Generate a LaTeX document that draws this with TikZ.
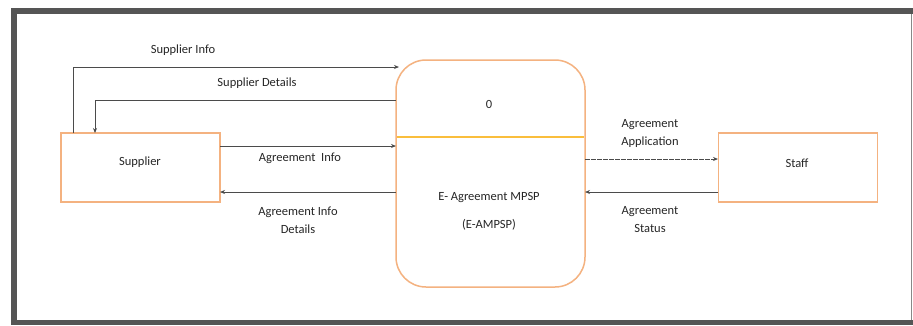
\documentclass[tikz,border=0pt]{standalone}
\usepackage{fontspec}
\setmainfont{Carlito}
\usetikzlibrary{arrows.meta}
\definecolor{boxor}{RGB}{244,178,128}
\definecolor{divy}{RGB}{250,190,60}
\definecolor{arr}{RGB}{75,75,75}
\definecolor{frame}{RGB}{85,85,85}
\tikzset{
  x=1pt, y=-1pt,
  entity/.style={draw=boxor, line width=1.3pt, minimum width=159pt, minimum height=69pt, inner sep=0pt},
  proc/.style={draw=boxor, line width=1.5pt, rounded corners=30pt},
  flow/.style={draw=arr, line width=1pt, -{Stealth[length=5pt,width=4pt]}},
  lbl/.style={font=\fontsize{12.5}{18}\selectfont, text=black!85, align=center, inner sep=0pt},
}
\begin{document}
\begin{tikzpicture}
\useasboundingbox (0,0) rectangle (913,325);
\fill[white] (0,0) rectangle (913,325);
% frame
\fill[frame] (11,8) rectangle (17,325);
\fill[frame] (11,8) rectangle (913,14);
\fill[frame] (11,320) rectangle (913,325);
\draw[frame!70, line width=1pt] (911,14) -- (911,320);
% nodes
\node[entity] (sup) at (140.5,167.5) {};
\node[lbl] (suplbl) at (140,162) {Supplier};
\node[entity] (staff) at (798,167.5) {};
\node[lbl] (stafflbl) at (797,163) {Staff};
\draw[proc] (396,60) rectangle (585,287);
\draw[divy, line width=1.2pt] (397,137) -- (584,137);
\node[lbl] (zero) at (489,104) {0};
\node[lbl] (pname) at (489,198) {E- Agreement MPSP};
\node[lbl] (pid) at (489,225) {(E-AMPSP)};
% connectors
\coordinate (si0) at (73,133);
\coordinate (si1) at (73,67);
\coordinate (si2) at (399,67);
\draw[flow] (si0) -- (si1) -- (si2);
\coordinate (sd0) at (396,100);
\coordinate (sd1) at (95,100);
\coordinate (sd2) at (95,133);
\draw[flow] (sd0) -- (sd1) -- (sd2);
\coordinate (ai0) at (220,146);
\coordinate (ai1) at (396,146);
\draw[flow] (ai0) -- (ai1);
\coordinate (ad0) at (396,192);
\coordinate (ad1) at (220,192);
\draw[flow] (ad0) -- (ad1);
\coordinate (aa0) at (585,159);
\coordinate (aa1) at (718,159);
\draw[flow, dash pattern=on 5pt off 1pt] (aa0) -- (aa1);
\coordinate (as0) at (718,192);
\coordinate (as1) at (585,192);
\draw[flow] (as0) -- (as1);
% labels
\node[lbl] (l1) at (183,50) {Supplier Info};
\node[lbl] (l2) at (257,83) {Supplier Details};
\node[lbl] (l3) at (300,158) {Agreement\ \ Info};
\node[lbl] (l4) at (298,220) {Agreement Info\\Details};
\node[lbl] (l5) at (650,133) {Agreement\\Application};
\node[lbl] (l6) at (650,220) {Agreement\\Status};
\end{tikzpicture}
\end{document}
